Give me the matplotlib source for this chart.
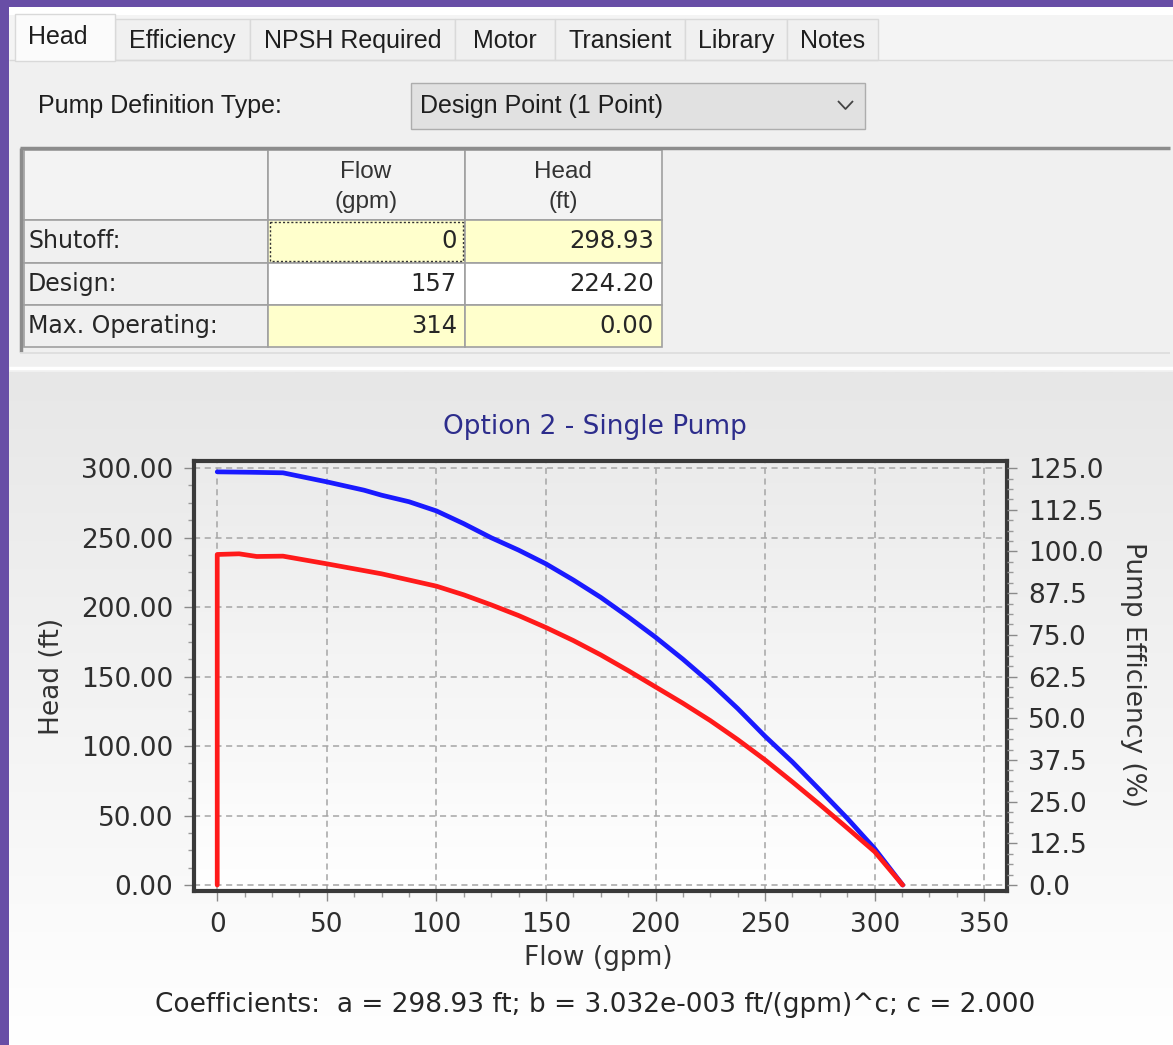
import numpy as np
import matplotlib.pyplot as plt
from matplotlib.patches import Rectangle
from matplotlib.colors import LinearSegmentedColormap
from matplotlib.ticker import MultipleLocator, FormatStrFormatter

W, H = 1173, 1045

tab_names = ["Head", "Efficiency", "NPSH Required", "Motor", "Transient", "Library", "Notes"]
tab_edges = [15, 115, 250, 455, 555, 685, 787, 878]

# pump definition table
row_names = ["Shutoff:", "Design:", "Max. Operating:"]
flow_gpm = [0, 157, 314]
head_ft = [298.93, 224.20, 0.00]

# curves
head_q = [0, 15, 30, 50, 67, 75, 87.5, 100, 112.5, 125, 137.5, 150, 162.5, 175,
          187.5, 200, 212.5, 225, 237.5, 250, 262.5, 275, 287.5, 300, 312.8]
head_h = [297.3, 297.0, 296.6, 290.1, 284.1, 280.5, 275.8, 269.2, 260.0, 249.9,
          241.0, 231.1, 219.5, 207.0, 193.0, 178.3, 162.5, 145.5, 127.0, 107.0,
          88.5, 68.4, 48.0, 26.2, 0.0]
eff_q = [0, 0, 10, 18, 30, 50, 75, 100, 112.5, 125, 137.5, 150, 162.5, 175, 187.5,
         200, 212.5, 225, 237.5, 250, 262.5, 275, 287.5, 300, 312.8]
eff_pct = [0, 99.1, 99.3, 98.5, 98.6, 96.3, 93.3, 89.6, 87.0, 84.0, 80.8, 77.2,
           73.3, 69.0, 64.3, 59.4, 54.5, 49.3, 43.6, 37.5, 30.9, 24.1, 17.1, 10.0, 0.0]

UI = "Liberation Sans"
CH = "DejaVu Sans"
TXT = "#1e1e1e"
FS = 19

fig = plt.figure(figsize=(W / 100, H / 100), dpi=100)
fig.patch.set_facecolor("#684ea6")
bg = fig.add_axes([0, 0, 1, 1])
bg.axis("off")


def box(x0, y0, x1, y1, fc, ec="none", lw=0, z=1, ls="-"):
    bg.add_patch(Rectangle((x0, y0), x1 - x0, y1 - y0, facecolor=fc,
                           edgecolor=ec, linewidth=lw, zorder=z, linestyle=ls))


def line(xs, ys, c, lw=1, z=3):
    bg.plot(xs, ys, color=c, lw=lw, zorder=z, solid_capstyle="butt")


# window body
box(9, 7, W + 2, H + 2, "white", z=0)
box(9, 15, W + 2, 60, "#f4f4f4", z=0.5)
box(9, 60, W + 2, 372, "#f0f0f0", z=0.5)
line([9, W], [60, 60], "#d9d9d9", 1)

# tabs
for i, name in enumerate(tab_names):
    x0, x1 = tab_edges[i], tab_edges[i + 1]
    if i == 0:
        box(x0, 14, x1, 61, "#fbfbfb", ec="#d9d9d9", lw=1, z=4)
        bg.text(x0 + 13, 37, name, fontsize=18, family=UI, color=TXT,
                va="center", ha="left", zorder=5)
    else:
        box(x0, 19, x1, 60, "#f0f0f0", ec="#d9d9d9", lw=1, z=2)
        bg.text((x0 + x1) / 2, 41, name, fontsize=18, family=UI, color=TXT,
                va="center", ha="center", zorder=5)

# definition type row
bg.text(38, 106, "Pump Definition Type:", fontsize=18, family=UI, color=TXT,
        va="center", ha="left")
box(411, 83, 865, 129, "#e1e1e1", ec="#adadad", lw=1, z=2)
bg.text(420, 106, "Design Point (1 Point)", fontsize=18, family=UI, color=TXT,
        va="center", ha="left", zorder=3)
line([838, 845.5, 853], [101, 109, 101], "#444444", 1.3)

# table frame
line([20, 1170], [148, 148], "#8c8c8c", 2.5)
line([21, 21], [148, 352], "#8c8c8c", 2.5)
line([20, 1170], [353, 353], "#dcdcdc", 1.2)
line([9, W], [368, 368], "#ffffff", 2.5)

cols = [24, 268, 465, 662]
rows = [150, 220, 263, 305, 347]
for c in range(3):
    box(cols[c], rows[0], cols[c + 1], rows[1], "#f3f3f3", ec="#a0a0a0", lw=1.2, z=2)
for x, top, bot in [(366, "Flow", "(gpm)"), (563, "Head", "(ft)")]:
    bg.text(x, 172, top, fontsize=17.5, family=UI, color="#333333", ha="center", va="center", zorder=4)
    bg.text(x, 202, bot, fontsize=17.5, family=UI, color="#333333", ha="center", va="center", zorder=4)

for r, name in enumerate(row_names):
    y0, y1 = rows[r + 1], rows[r + 2]
    yc = (y0 + y1) / 2
    fill = "white" if r == 1 else "#ffffcc"
    box(cols[0], y0, cols[1], y1, "#f0f0f0", ec="#a0a0a0", lw=1.2, z=2)
    box(cols[1], y0, cols[2], y1, fill, ec="#a0a0a0", lw=1.2, z=2)
    box(cols[2], y0, cols[3], y1, fill, ec="#a0a0a0", lw=1.2, z=2)
    bg.text(cols[0] + 4, yc, name, fontsize=17, family=CH, color="#262626",
            ha="left", va="center", zorder=4)
    bg.text(cols[2] - 8, yc, "%d" % flow_gpm[r], fontsize=17.5, family=CH,
            color="#262626", ha="right", va="center", zorder=4)
    bg.text(cols[3] - 8, yc, "%.2f" % head_ft[r], fontsize=17.5, family=CH,
            color="#262626", ha="right", va="center", zorder=4)
box(cols[1] + 2, rows[1] + 2, cols[2] - 2, rows[2] - 2, "none", ec="#333333",
    lw=1, z=3, ls=(0, (1.5, 1.5)))

# chart background gradient
grad = np.linspace(0, 1, 256).reshape(-1, 1)
cm_bg = LinearSegmentedColormap.from_list("bgg", ["#e7e7e7", "#ffffff"])
bg.imshow(grad, cmap=cm_bg, extent=(9, W, H, 372), aspect="auto", zorder=0.6)
cm_ax = LinearSegmentedColormap.from_list("axg", ["#ebebeb", "#ffffff"])
bg.imshow(grad, cmap=cm_ax, extent=(194, 1007, 891, 461), aspect="auto", zorder=0.7)
bg.set_xlim(0, W)
bg.set_ylim(H, 0)

bg.text(595, 427, "Option 2 - Single Pump", fontsize=FS, family=CH,
        color="#2d2d8c", ha="center", va="center")
bg.text(52, 676, "Head (ft)", fontsize=FS, family=CH, color="#333333",
        ha="center", va="center", rotation=90)
bg.text(1133, 675, "Pump Efficiency (%)", fontsize=FS, family=CH, color="#333333",
        ha="center", va="center", rotation=-90)
bg.text(598, 958, "Flow (gpm)", fontsize=FS, family=CH, color="#333333",
        ha="center", va="center")
bg.text(595, 1005, "Coefficients:  a = 298.93 ft; b = 3.032e-003 ft/(gpm)^c; c = 2.000",
        fontsize=FS, family=CH, color="#262626", ha="center", va="center")

# plot
ax = fig.add_axes([194 / W, 1 - 891 / H, (1007 - 194) / W, (891 - 461) / H])
ax.set_facecolor("none")
ax.set_xlim(-10.6, 360.4)
ax.set_ylim(-4.3, 305.1)
ax.xaxis.set_major_locator(MultipleLocator(50))
ax.xaxis.set_minor_locator(MultipleLocator(12.5))
ax.yaxis.set_major_locator(MultipleLocator(50))
ax.yaxis.set_minor_locator(MultipleLocator(12.5))
ax.yaxis.set_major_formatter(FormatStrFormatter("%.2f"))
ax.grid(True, which="major", linestyle=(0, (4, 3)), color="#a5a5a5", linewidth=1.1)
ax.set_axisbelow(True)
for s in ax.spines.values():
    s.set_linewidth(3)
    s.set_color("#3a3a3a")
    s.set_zorder(6)
ax.tick_params(which="major", length=7, width=1, color="#8a8a8a",
               labelsize=FS, labelcolor="#2e2e2e", pad=8)
ax.tick_params(which="minor", length=4, width=1, color="#9a9a9a")
for lab in ax.get_xticklabels() + ax.get_yticklabels():
    lab.set_family(CH)
ax.plot(head_q, head_h, color="#1a1aff", lw=3.4, solid_capstyle="round",
        solid_joinstyle="round", zorder=4)

ax2 = ax.twinx()
ax2.set_ylim(-4.3 * 125 / 300, 305.1 * 125 / 300)
ax2.yaxis.set_major_locator(MultipleLocator(12.5))
ax2.yaxis.set_minor_locator(MultipleLocator(3.125))
ax2.yaxis.set_major_formatter(FormatStrFormatter("%.1f"))
for s in ax2.spines.values():
    s.set_visible(False)
ax2.tick_params(which="major", length=7, width=1, color="#8a8a8a",
                labelsize=FS, labelcolor="#2e2e2e", pad=8)
ax2.tick_params(which="minor", length=4, width=1, color="#9a9a9a")
ax2.plot(eff_q, eff_pct, color="#ff1a1a", lw=3.4, solid_capstyle="round",
         solid_joinstyle="round", zorder=4)

fig.savefig("out.png", dpi=100, facecolor=fig.get_facecolor())
